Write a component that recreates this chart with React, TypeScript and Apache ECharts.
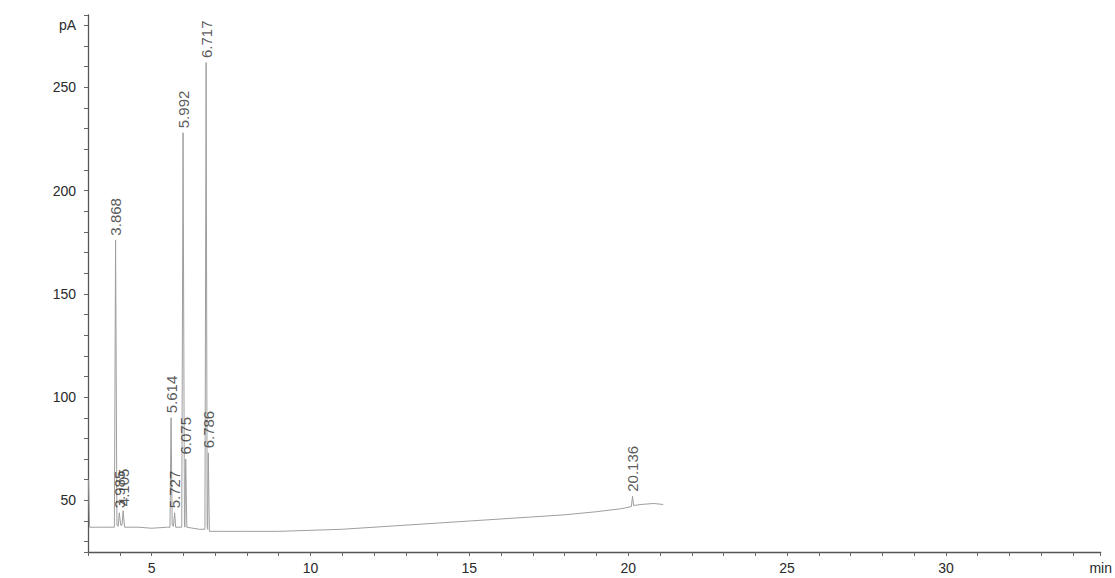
import React, { useEffect, useRef } from "react";
import * as echarts from "echarts";

// Chromatogram trace (retention time in min, signal in pA)
const traceTime = [
  3.02, 3.05, 3.5, 3.83, 3.868, 3.91, 3.95, 3.985, 4.03, 4.07, 4.105, 4.15,
  4.6, 5.0, 5.5, 5.58, 5.614, 5.65, 5.69, 5.727, 5.76, 5.95, 5.992, 6.035,
  6.05, 6.075, 6.11, 6.5, 6.68, 6.717, 6.75, 6.765, 6.786, 6.82, 7.2, 8, 9,
  10, 11, 12, 13, 14, 15, 16, 17, 18, 19, 19.8, 20.1, 20.136, 20.17, 20.4,
  20.8, 21.1,
];
const traceSignal = [
  60, 37, 37, 37, 176, 38, 37.5, 44, 38, 38, 45, 37,
  37, 36.5, 37, 37, 90, 38, 37.5, 44, 37, 37, 228, 38,
  37, 70, 37, 36, 36, 262, 38, 36, 73, 35, 35, 35, 35,
  35.5, 36, 37, 38, 39, 40, 41, 42, 43, 44.5, 46, 47, 52, 47.5, 48,
  48.5, 48,
];

// Labelled peaks
const peakTime = [3.868, 3.985, 4.105, 5.614, 5.727, 5.992, 6.075, 6.717, 6.786, 20.136];
const peakHeight = [176, 44, 45, 90, 44, 228, 70, 262, 73, 52];
const peakLabels = ["3.868", "3.985", "4.105", "5.614", "5.727", "5.992", "6.075", "6.717", "6.786", "20.136"];

const yLabelValues = [50, 100, 150, 200, 250];
const yUnitLabel = "pA";
const xUnitLabel = "min";

export default function App() {
  const ref = useRef<HTMLDivElement>(null);

  useEffect(() => {
    if (!ref.current) return;
    const chart = echarts.init(ref.current, null, { renderer: "svg" });
    const traceData = traceTime.map((t, i) => [t, traceSignal[i]]);
    const peakData = peakTime.map((t, i) => ({ value: [t, peakHeight[i]], name: peakLabels[i] }));
    const font = "'Liberation Sans', Arial, sans-serif";

    chart.setOption({
      animation: false,
      backgroundColor: "#ffffff",
      grid: { left: 88, right: 0, top: 15, bottom: 26, containLabel: false },
      xAxis: {
        type: "value",
        min: 3.0,
        max: 34.87,
        splitNumber: 32,
        minInterval: 1,
        maxInterval: 1,
        axisLine: { show: true, lineStyle: { color: "#555", width: 1.3 } },
        axisTick: { show: true, length: 4, lineStyle: { color: "#666" } },
        splitLine: { show: false },
        axisLabel: {
          show: true,
          showMaxLabel: true,
          showMinLabel: true,
          margin: 9,
          fontSize: 14,
          fontFamily: font,
          color: "#2a2a2a",
          formatter: (v: number) => {
            if (v > 34.5) return xUnitLabel;
            return Math.abs(v % 5) < 1e-6 ? String(v) : "";
          },
        },
      },
      yAxis: {
        type: "value",
        min: 25,
        max: 285,
        splitNumber: 26,
        minInterval: 10,
        maxInterval: 10,
        axisLine: { show: true, lineStyle: { color: "#555", width: 1.3 } },
        axisTick: { show: true, length: 4, lineStyle: { color: "#666" } },
        splitLine: { show: false },
        axisLabel: {
          show: true,
          margin: 12,
          fontSize: 14,
          fontFamily: font,
          color: "#2a2a2a",
          formatter: (v: number) => {
            if (Math.abs(v - 280) < 1e-6) return yUnitLabel;
            return yLabelValues.includes(v) ? String(v) : "";
          },
        },
      },
      series: [
        {
          type: "line",
          data: traceData,
          showSymbol: false,
          symbol: "none",
          lineStyle: { color: "#9e9e9e", width: 1 },
          z: 2,
        },
        {
          type: "scatter",
          data: peakData,
          symbolSize: 1,
          itemStyle: { color: "rgba(0,0,0,0)" },
          clip: false,
          z: 3,
          label: {
            show: true,
            position: "top",
            distance: 4,
            rotate: 90,
            align: "left",
            verticalAlign: "middle",
            fontSize: 15,
            fontFamily: font,
            color: "#2e2e2e",
            formatter: (p: any) => p.name,
          },
        },
      ],
    });
    return () => chart.dispose();
  }, []);

  return (
    <div
      ref={ref}
      style={{ position: "fixed", left: 0, top: 0, width: 1115, height: 578, background: "#fff" }}
    />
  );
}
